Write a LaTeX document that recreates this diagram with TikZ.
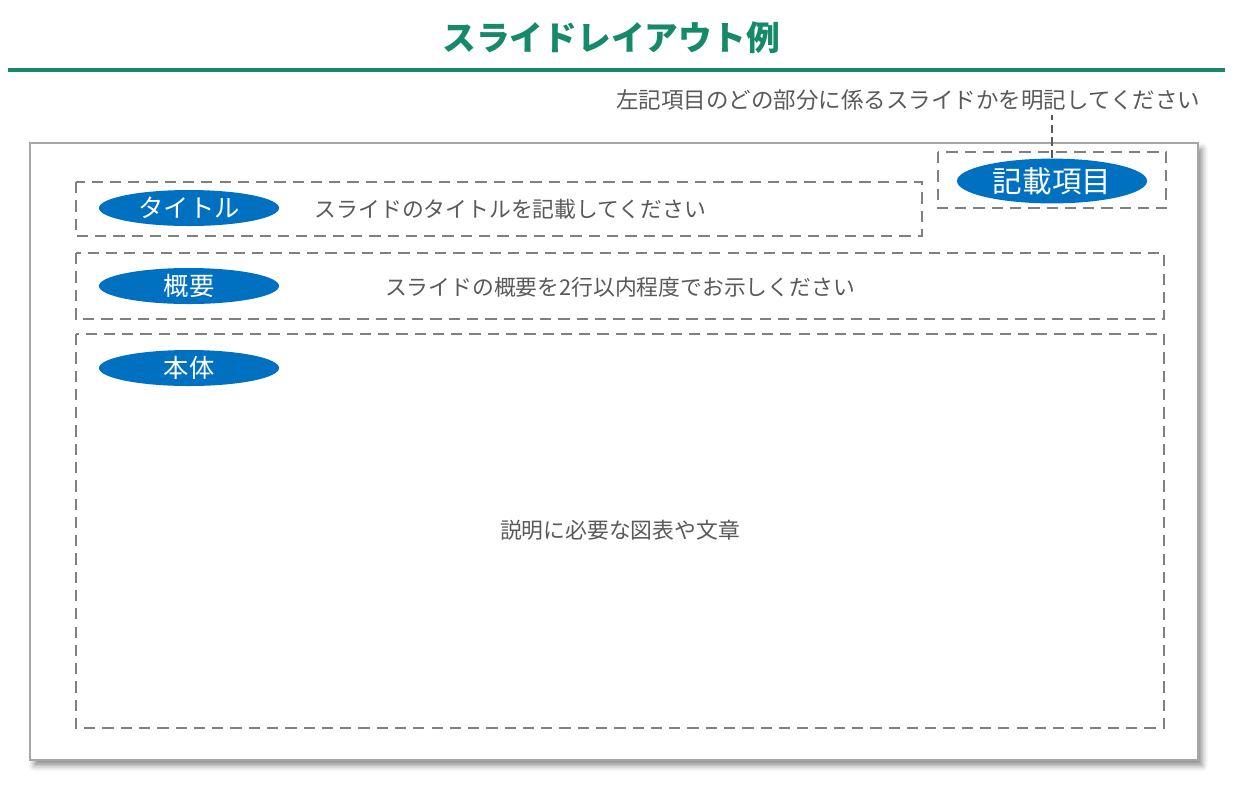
\documentclass[tikz,border=0pt]{standalone}
\usepackage{fontspec}
\setmainfont{Noto Sans CJK JP}
\usetikzlibrary{shapes.geometric,shadows.blur}
\definecolor{headgreen}{HTML}{17896B}
\definecolor{tagblue}{HTML}{0070C0}
\definecolor{txtgray}{HTML}{595959}
\definecolor{linegray}{HTML}{808080}
\tikzset{
  dashbox/.style={draw=linegray, line width=2pt, dash pattern=on 8pt off 5pt},
  tag/.style={ellipse, fill=tagblue, text=white, inner sep=0pt,
    minimum width=4.5cm, minimum height=0.9cm, font=\fontsize{18}{21}\selectfont},
  plain/.style={text=txtgray, font=\fontsize{15.5}{18}\selectfont},
}
\begin{document}
\begin{tikzpicture}[x=0.025cm, y=-0.025cm]
                  \useasboundingbox (0,0) rectangle (1240,792);
                  % heading
                  \node[text=headgreen, font=\fontsize{24}{28}\selectfont\bfseries] (head) at (611,38) {スライドレイアウト例};
                  \draw[headgreen, line width=3.5pt] (8,70) -- (1225,70);
                  \node[plain, anchor=east, font=\fontsize{16}{19}\selectfont] (note) at (1205,100) {左記項目のどの部分に係るスライドかを明記してください};

                  % slide
                  \filldraw[draw=gray!70, fill=white, line width=1pt,
                    blur shadow={shadow xshift=3pt, shadow yshift=-4pt, shadow blur radius=4pt, shadow opacity=45}] (30,143) rectangle (1198,760);

                  \draw[dashbox] (938,152) rectangle (1166,208);
                  \draw[dashbox] (76,182) rectangle (922,236);
                  \draw[dashbox] (76,253) rectangle (1164,319);
                  \draw[dashbox] (76,334) rectangle (1164,728);

                  % tags
                  \node[tag, minimum width=4.75cm, minimum height=1.12cm, font=\fontsize{21}{24}\selectfont] (kisai) at (1052,181) {記載項目};
                  \foreach \y/\t/\n in {208/タイトル/title, 286/概要/gaiyo, 368/本体/hontai}
                  \node[tag] (\n) at (189,\y) {\t};

                  \node[plain, anchor=west] (titletxt) at (310,209) {スライドのタイトルを記載してください};
                  \node[plain] (gaiyotxt) at (620,287) {スライドの概要を2行以内程度でお示しください};
                  \node[plain] (hontaitxt) at (620,530) {説明に必要な図表や文章};

                  \draw[txtgray, line width=1pt, dash pattern=on 6pt off 3pt] (kisai.north) -- (kisai.north |- note.south);
              \end{tikzpicture}
\end{document}
